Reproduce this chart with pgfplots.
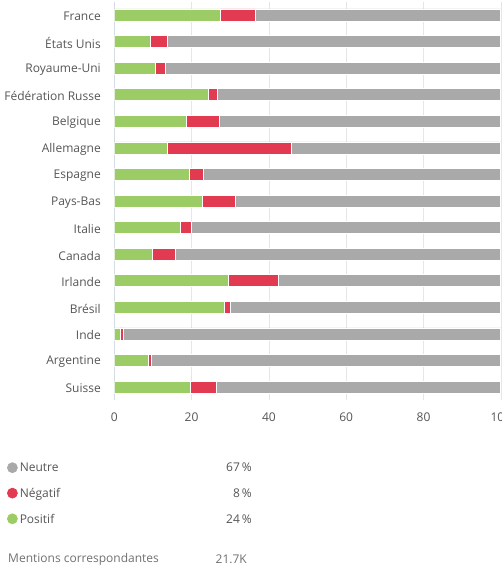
\documentclass[border=0pt]{standalone}
\usepackage{fontspec}
\setmainfont{Open Sans}
\usepackage{pgfplots}
\usepackage{pgfplotstable}
\pgfplotsset{compat=1.18}
\definecolor{cpos}{HTML}{9CCC65}
\definecolor{cneg}{HTML}{E23A50}
\definecolor{cneu}{HTML}{A9A9A9}
\definecolor{txt}{HTML}{555555}
\definecolor{txtl}{HTML}{707070}
\definecolor{gridc}{HTML}{E6E6E6}
\definecolor{axc}{HTML}{D3DCE5}

\pgfplotstableread{
idx pos neg neu
0 27.4 9.0 63.6
1 9.3 4.3 86.4
2 10.7 2.4 86.9
3 24.4 2.2 73.4
4 18.6 8.7 72.7
5 13.6 32.3 54.1
6 19.5 3.5 77.0
7 22.8 8.5 68.7
8 17.2 2.7 80.1
9 9.8 6.0 84.2
10 29.6 12.8 57.6
11 28.4 1.5 70.1
12 1.5 0.9 97.6
13 8.8 0.8 90.4
14 19.6 6.7 73.7
}\data

\begin{document}
\begin{tikzpicture}[font=\fontsize{12pt}{14pt}\selectfont]
\begin{axis}[
  name=ax,
  scale only axis,
  width=386.5pt, height=398.6pt,
  xbar stacked,
  bar width=12pt,
  xmin=0, xmax=100,
  ymin=-0.5, ymax=14.5,
  y dir=reverse,
  ytick={0,...,14},
  yticklabels={France,États Unis,Royaume-Uni,Fédération Russe,Belgique,Allemagne,Espagne,Pays-Bas,Italie,Canada,Irlande,Brésil,Inde,Argentine,Suisse},
  xtick={0,20,...,100},
  xmajorgrids,
  grid style={draw=gridc, line width=0.6pt},
  axis x line=bottom, axis y line=left,
  x axis line style={draw=none},
  y axis line style={draw=axc, line width=0.8pt, -},
  major tick length=0pt,
  tick style={draw=none},
  /pgf/number format/assume math mode=true,
  ticklabel style={font=\fontsize{12pt}{14pt}\selectfont, text=txt},
  yticklabel style={xshift=-10pt, yshift=-1.5pt},
  xticklabel style={yshift=-9pt},
  reverse legend,
  legend style={at={(-0.278,-0.152)}, anchor=north west, draw=none, fill=none,
    inner sep=0pt, row sep=11pt, column sep=0pt, text=txt,
    font=\fontsize{12pt}{14pt}\selectfont,
    cells={anchor=west}},
]
\addplot+[fill=cpos, draw=white, line width=0.7pt,
  legend image code/.code={\fill[cpos] (5pt,0.05em) circle (5pt);}]
  table[x=pos, y=idx] {\data};
\addplot+[fill=cneg, draw=white, line width=0.7pt,
  legend image code/.code={\fill[cneg] (5pt,0.05em) circle (5pt);}]
  table[x=neg, y=idx] {\data};
\addplot+[fill=cneu, draw=white, line width=0.7pt,
  legend image code/.code={\fill[cneu] (5pt,0.05em) circle (5pt);}]
  table[x=neu, y=idx] {\data};
\legend{\makebox[232pt][l]{Positif\hfill 24\,\%},\makebox[232pt][l]{Négatif\hfill 8\,\%},\makebox[232pt][l]{Neutre\hfill 67\,\%}}
\end{axis}
\node[anchor=west, inner sep=0pt, text=txtl] at ([xshift=-106.3pt,yshift=-158.7pt]ax.south west) {Mentions correspondantes};
\node[anchor=east, inner sep=0pt, text=txtl] at ([xshift=132.7pt,yshift=-158.7pt]ax.south west) {21.7K};
\pgfresetboundingbox
\useasboundingbox ([xshift=-114.3pt,yshift=-166.7pt]ax.south west) rectangle ([xshift=1.2pt,yshift=1.7pt]ax.north east);
\end{tikzpicture}
\end{document}
